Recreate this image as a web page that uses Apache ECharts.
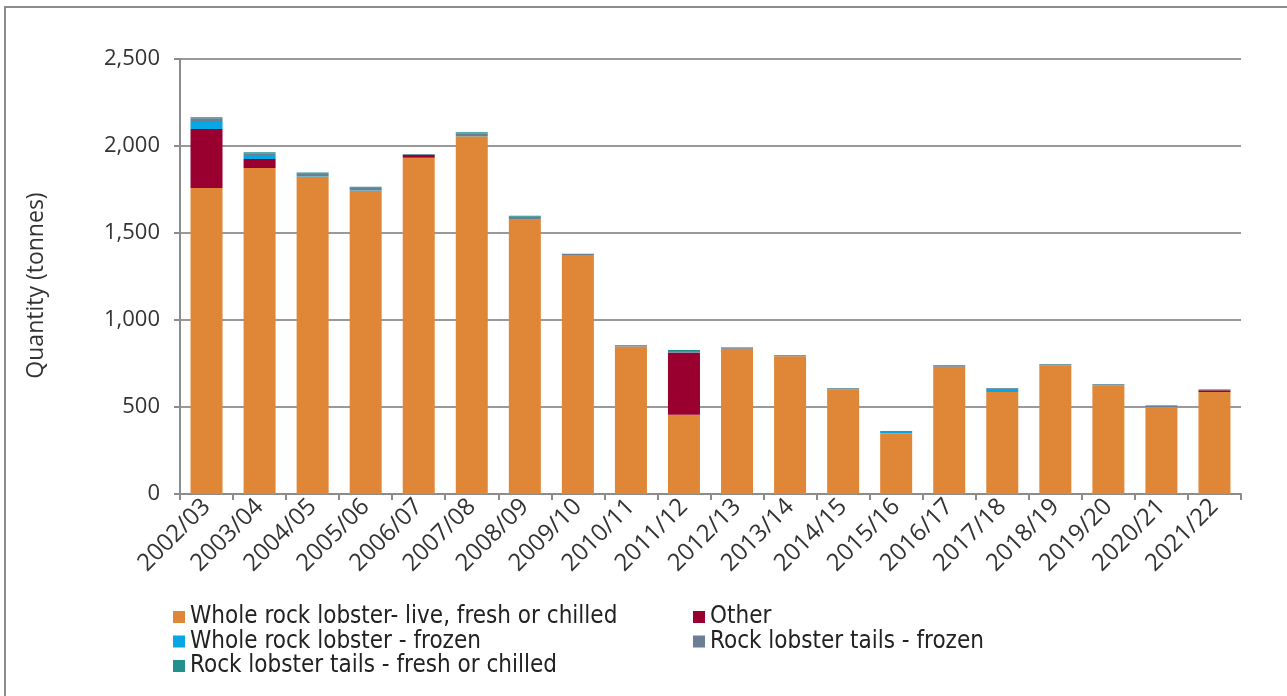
<!DOCTYPE html>
<html>
<head>
<meta charset="utf-8">
<script src="https://cdn.jsdelivr.net/npm/echarts@6/dist/echarts.min.js"></script>
<style>
  html, body { margin: 0; padding: 0; background: #fff; }
  #chart { width: 1287px; height: 696px; }
</style>
</head>
<body>
<div id="chart"></div>
<script>
// seasons on the x axis
const seasons = ['2002/03', '2003/04', '2004/05', '2005/06', '2006/07', '2007/08', '2008/09', '2009/10', '2010/11', '2011/12',
  '2012/13', '2013/14', '2014/15', '2015/16', '2016/17', '2017/18', '2018/19', '2019/20', '2020/21', '2021/22']

// tonnes (bottom of stack first)
const wholeLive = [1759, 1874, 1824, 1743, 1933, 2056, 1580, 1374, 847, 456, 835, 791, 602, 347, 732, 586, 740, 625, 500, 586]
const other = [339, 51, 0, 0, 15, 0, 0, 0, 0, 356, 0, 0, 0, 0, 0, 0, 0, 0, 0, 10]
const wholeFrozen = [40, 23, 3, 3, 0, 2, 0, 0, 0, 0, 0, 0, 0, 10, 0, 17, 0, 0, 0, 0]
const tailsFrozen = [21, 10, 14, 14, 5, 15, 13, 7, 8, 10, 7, 7, 6, 5, 8, 5, 6, 6, 8, 5]
const tailsFresh = [6, 6, 6, 6, 1, 6, 6, 0, 1, 6, 1, 1, 1, 0, 1, 1, 1, 1, 2, 1]

const yTicks = [0, 500, 1000, 1500, 2000, 2500]

let myChart = echarts.init(document.getElementById('chart'))

const legendText = {
  color: '#222',
  fontSize: 24,
  lineHeight: 24,
  fontFamily: 'DejaVu Sans Condensed'
}

function stackSeries(name, data, color) {
  return {
    name: name,
    type: 'bar',
    stack: 'total',
    barWidth: 32,
    itemStyle: { color: color },
    data: data
  }
}

const option = {
  animation: false,
  textStyle: { fontFamily: 'Open Sans' },
  graphic: [
    {
      // outer frame of the picture
      type: 'rect',
      shape: { x: 5, y: 7, width: 1400, height: 800 },
      style: { fill: 'none', stroke: '#8c8c8c', lineWidth: 2 }
    }
  ],
  legend: [
    {
      orient: 'vertical',
      left: 168,
      top: 600,
      itemWidth: 12,
      itemHeight: 12,
      itemGap: 0.5,
      icon: 'rect',
      textStyle: legendText,
      data: ['Whole rock lobster- live, fresh or chilled', 'Whole rock lobster - frozen', 'Rock lobster tails - fresh or chilled']
    },
    {
      orient: 'vertical',
      left: 688,
      top: 600,
      itemWidth: 12,
      itemHeight: 12,
      itemGap: 0.5,
      icon: 'rect',
      textStyle: legendText,
      data: ['Other', 'Rock lobster tails - frozen']
    }
  ],
  grid: {
    left: 180,
    right: 46,
    top: 59,
    bottom: 202
  },
  xAxis: {
    type: 'category',
    data: seasons,
    axisLine: { lineStyle: { color: '#8c8c8c', width: 2 } },
    axisTick: { show: true, length: 6, lineStyle: { color: '#8c8c8c', width: 2 } },
    axisLabel: {
      rotate: 45,
      interval: 0,
      color: '#333',
      fontSize: 24,
      margin: 9
    }
  },
  yAxis: {
    type: 'value',
    min: yTicks[0],
    max: yTicks[yTicks.length - 1],
    interval: 500,
    name: 'Quantity (tonnes)',
    nameLocation: 'middle',
    nameGap: 132,
    nameTextStyle: { color: '#333', fontSize: 23, padding: [0, 18, 0, 0] },
    axisLine: { show: true, lineStyle: { color: '#8c8c8c', width: 2 } },
    axisTick: { show: true, length: 6, lineStyle: { color: '#8c8c8c', width: 2 } },
    axisLabel: {
      color: '#333',
      fontSize: 22,
      margin: 20,
      formatter: function (v) { return v.toLocaleString('en-US') }
    },
    splitLine: { lineStyle: { color: '#999', width: 2 } }
  },
  series: [
    stackSeries('Whole rock lobster- live, fresh or chilled', wholeLive, '#e08737'),
    stackSeries('Other', other, '#990030'),
    stackSeries('Whole rock lobster - frozen', wholeFrozen, '#08a6e4'),
    stackSeries('Rock lobster tails - frozen', tailsFrozen, '#6b7f94'),
    stackSeries('Rock lobster tails - fresh or chilled', tailsFresh, '#22918e')
  ]
}
myChart.setOption(option)
</script>
</body>
</html>
